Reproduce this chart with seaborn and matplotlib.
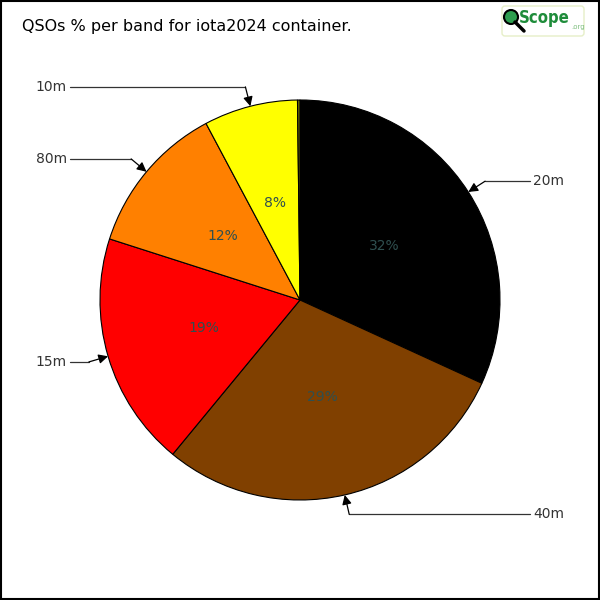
import numpy as np
import matplotlib
matplotlib.use("Agg")
import matplotlib.pyplot as plt
import seaborn as sns
from matplotlib.patches import FancyBboxPatch, Circle, Rectangle

# QSO share per band (percent)
bands = ["20m", "40m", "15m", "80m", "10m", ""]
share = [31.9, 29.2, 19.0, 12.3, 7.6, 0.2]
band_colors = ["#000000", "#804000", "#ff0000", "#ff8000", "#ffff00", "#6b6b00"]
title = "QSOs % per band for iota2024 container."

sns.set_theme(style="white")
plt.rcParams['font.family'] = ['DejaVu Sans']

fig = plt.figure(figsize=(6, 6), dpi=100)
ax = fig.add_axes([0, 0, 1, 1])
ax.set_xlim(-1.5, 1.5)
ax.set_ylim(-1.5, 1.5)
ax.set_aspect('equal')
ax.axis('off')

def pct_fmt(p):
    return "%d%%" % round(p) if p >= 1 else ""

wedges, _, autotexts = ax.pie(share, colors=band_colors, startangle=90, counterclock=False,
                              radius=1.0, center=(0, 0), autopct=pct_fmt, pctdistance=0.5,
                              wedgeprops=dict(edgecolor='black', linewidth=0.8),
                              textprops=dict(color='#2f4f4f', fontsize=10))
ax.set_xlim(-1.5, 1.5)
ax.set_ylim(-1.5, 1.5)

# labels with elbow arrows
for w, name in zip(wedges, bands):
    if not name:
        continue
    mid = np.deg2rad((w.theta1 + w.theta2) / 2)
    tip = (np.cos(mid), np.sin(mid))
    elbow = (1.1 * np.cos(mid), 1.1 * np.sin(mid))
    side = 1 if tip[0] > 0 else -1
    lx = 1.15 * side
    ax.plot([lx, elbow[0]], [elbow[1], elbow[1]], color='#333333', lw=0.9)
    ax.annotate("", xy=tip, xytext=elbow,
                arrowprops=dict(arrowstyle='-|>', color='black', lw=0.9,
                                mutation_scale=14, shrinkA=0, shrinkB=0))
    ax.text(lx + 0.015 * side, elbow[1], name, ha='left' if side > 0 else 'right',
            va='center', fontsize=10, color='#333333')

fig.text(22 / 600, 1 - 27 / 600, title, fontsize=11.5, color='black', va='center', ha='left')

# logo box top right
fig.patches.append(FancyBboxPatch((502 / 600, 1 - 36 / 600), 82 / 600, 30 / 600,
                                  boxstyle="round,pad=0,rounding_size=0.005",
                                  transform=fig.transFigure, facecolor='white',
                                  edgecolor='#e6efc8', lw=1))
fig.patches.append(Circle((511 / 600, 1 - 17 / 600), 7 / 600, transform=fig.transFigure,
                          facecolor='#2e9e4f', edgecolor='black', lw=1.5))
fig.lines.append(plt.Line2D([515 / 600, 524 / 600], [1 - 22 / 600, 1 - 31 / 600],
                            transform=fig.transFigure, color='black', lw=2.5))
fig.text(519 / 600, 1 - 18 / 600, "Scope", fontsize=12, color='#1e8c3a', fontstretch='condensed',
         va='center', ha='left', fontweight='bold')
fig.text(571 / 600, 1 - 27 / 600, ".org", fontsize=5, color='#7fbf7f', va='center', ha='left')

# frame
fig.patches.append(Rectangle((0.001, 0.001), 0.997, 0.997, transform=fig.transFigure,
                             fill=False, edgecolor='black', lw=1.5))

fig.savefig("out.png", dpi=100)
